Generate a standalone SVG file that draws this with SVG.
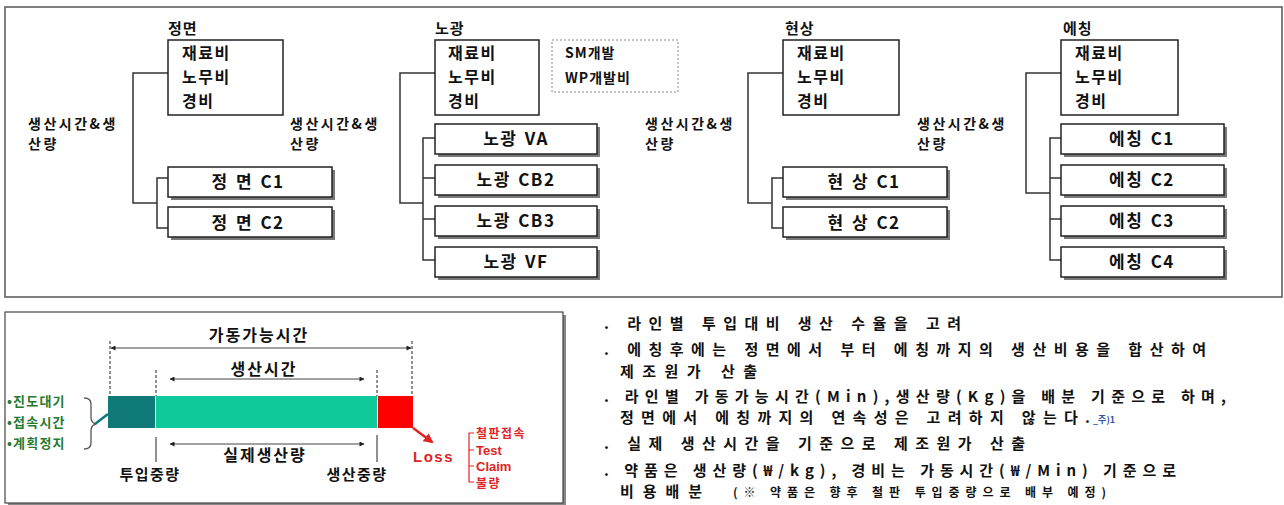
<svg xmlns="http://www.w3.org/2000/svg" width="1284" height="505" viewBox="0 0 1284 505">
<defs>
<style>
.t{font-family:"Noto Sans CJK KR","Noto Sans",sans-serif;font-weight:bold;fill:#111}
.lat{font-family:"Liberation Sans",Arial,sans-serif}
.ttl{font-size:15px;letter-spacing:1px}
.cost{font-size:16px;letter-spacing:1.5px}
.lbl{font-size:14px;letter-spacing:2.5px}
.cl{font-size:17px;letter-spacing:1.5px;word-spacing:2px;text-anchor:middle}
.box{fill:#fff;stroke:#222;stroke-width:1.5}
.sh{fill:#7a7a7a}
.ln{fill:none;stroke:#333;stroke-width:1.5}
.note{font-size:15px}
.grn{font-size:13px;fill:#267a30;letter-spacing:1.2px}
.red{fill:#e02424}
</style>
<marker id="ah" viewBox="0 0 10 10" refX="9" refY="5" markerWidth="8" markerHeight="5" orient="auto-start-reverse" markerUnits="userSpaceOnUse"><path d="M0,0 L10,5 L0,10 z" fill="#222"/></marker>
<marker id="ahr" viewBox="0 0 10 10" refX="8" refY="5" markerWidth="10" markerHeight="10" orient="auto" markerUnits="userSpaceOnUse"><path d="M0,0 L10,5 L0,10 z" fill="#e02424"/></marker>
</defs>
<rect width="1284" height="505" fill="#fff"/>
<rect x="5" y="7" width="1277" height="290" fill="none" stroke="#555" stroke-width="1.5"/>

<g id="connectors">
<path class="ln" d="M168,73 H133 V203 H157 M168,178 H157 V228 H168"/>
<path class="ln" d="M435,73 H400 V203 H423 M435,138 H423 V260 H435 M423,178 H435 M423,219 H435"/>
<path class="ln" d="M783,73 H748 V203 H772 M783,178 H772 V228 H783"/>
<path class="ln" d="M1061,73 H1026 V193 H1050 M1061,138 H1050 V260 H1061 M1050,178 H1061 M1050,219 H1061"/>
</g>

<!-- 정면 -->
<g id="jm-cost">
<text class="t ttl" x="168" y="34">정면</text>
<rect class="box" x="168" y="40" width="115" height="75"/>
<text class="t cost" x="182" y="59">재료비</text>
<text class="t cost" x="182" y="83">노무비</text>
<text class="t cost" x="182" y="107">경비</text>
</g>
<g id="jm-label"><text class="t lbl" x="28" y="129">생산시간&amp;생</text><text class="t lbl" x="28" y="149">산량</text></g>
<g id="jm-c1"><rect class="sh" x="171" y="170" width="164" height="30"/><rect class="box" x="168" y="167" width="164" height="30"/><text class="t cl" x="248" y="188">정 면 C1</text></g>
<g id="jm-c2"><rect class="sh" x="171" y="210" width="164" height="30"/><rect class="box" x="168" y="207" width="164" height="30"/><text class="t cl" x="248" y="229">정 면 C2</text></g>

<!-- 노광 -->
<g id="ng-cost">
<text class="t ttl" x="435" y="34">노광</text>
<rect class="box" x="435" y="40" width="104" height="75"/>
<text class="t cost" x="448" y="59">재료비</text>
<text class="t cost" x="448" y="83">노무비</text>
<text class="t cost" x="448" y="107">경비</text>
</g>
<g id="ng-dev">
<rect x="552" y="40" width="126" height="52" fill="#fff" stroke="#888" stroke-width="1" stroke-dasharray="2 2"/>
<text class="t" x="565" y="58" font-size="14" letter-spacing="1">SM개발</text>
<text class="t" x="565" y="83" font-size="14" letter-spacing="1">WP개발비</text>
</g>
<g id="ng-label"><text class="t lbl" x="290" y="129">생산시간&amp;생</text><text class="t lbl" x="290" y="149">산량</text></g>
<g id="ng-va"><rect class="sh" x="438" y="127" width="162" height="30"/><rect class="box" x="435" y="124" width="162" height="30"/><text class="t cl" x="516" y="145">노광 VA</text></g>
<g id="ng-cb2"><rect class="sh" x="438" y="168" width="162" height="30"/><rect class="box" x="435" y="165" width="162" height="30"/><text class="t cl" x="516" y="186">노광 CB2</text></g>
<g id="ng-cb3"><rect class="sh" x="438" y="209" width="162" height="30"/><rect class="box" x="435" y="206" width="162" height="30"/><text class="t cl" x="516" y="227">노광 CB3</text></g>
<g id="ng-vf"><rect class="sh" x="438" y="250" width="162" height="30"/><rect class="box" x="435" y="247" width="162" height="30"/><text class="t cl" x="516" y="268">노광 VF</text></g>

<!-- 현상 -->
<g id="hs-cost">
<text class="t ttl" x="785" y="34">현상</text>
<rect class="box" x="783" y="40" width="116" height="75"/>
<text class="t cost" x="797" y="59">재료비</text>
<text class="t cost" x="797" y="83">노무비</text>
<text class="t cost" x="797" y="107">경비</text>
</g>
<g id="hs-label"><text class="t lbl" x="645" y="129">생산시간&amp;생</text><text class="t lbl" x="645" y="149">산량</text></g>
<g id="hs-c1"><rect class="sh" x="786" y="170" width="164" height="30"/><rect class="box" x="783" y="167" width="164" height="30"/><text class="t cl" x="864" y="188">현 상 C1</text></g>
<g id="hs-c2"><rect class="sh" x="786" y="210" width="164" height="30"/><rect class="box" x="783" y="207" width="164" height="30"/><text class="t cl" x="864" y="229">현 상 C2</text></g>

<!-- 에칭 -->
<g id="ec-cost">
<text class="t ttl" x="1063" y="34">에칭</text>
<rect class="box" x="1061" y="40" width="117" height="75"/>
<text class="t cost" x="1075" y="59">재료비</text>
<text class="t cost" x="1075" y="83">노무비</text>
<text class="t cost" x="1075" y="107">경비</text>
</g>
<g id="ec-label"><text class="t lbl" x="917" y="129">생산시간&amp;생</text><text class="t lbl" x="917" y="149">산량</text></g>
<g id="ec-c1"><rect class="sh" x="1064" y="127" width="163" height="30"/><rect class="box" x="1061" y="124" width="163" height="30"/><text class="t cl" x="1142" y="145">에칭 C1</text></g>
<g id="ec-c2"><rect class="sh" x="1064" y="168" width="163" height="30"/><rect class="box" x="1061" y="165" width="163" height="30"/><text class="t cl" x="1142" y="186">에칭 C2</text></g>
<g id="ec-c3"><rect class="sh" x="1064" y="209" width="163" height="30"/><rect class="box" x="1061" y="206" width="163" height="30"/><text class="t cl" x="1142" y="227">에칭 C3</text></g>
<g id="ec-c4"><rect class="sh" x="1064" y="250" width="163" height="30"/><rect class="box" x="1061" y="247" width="163" height="30"/><text class="t cl" x="1142" y="268">에칭 C4</text></g>

<!-- bottom-left panel -->
<g id="time-panel">
<rect x="8" y="315" width="558" height="191" fill="#888"/>
<rect x="5" y="312" width="558" height="191" fill="#fff" stroke="#444" stroke-width="1.2"/>
<text class="t" x="259" y="341" font-size="16" letter-spacing="2" text-anchor="middle" font-weight="500">가동가능시간</text>
<line x1="111" y1="348" x2="411" y2="348" stroke="#444" stroke-width="1" marker-start="url(#ah)" marker-end="url(#ah)"/>
<text class="t" x="264" y="375" font-size="16" letter-spacing="2" text-anchor="middle" font-weight="500">생산시간</text>
<line x1="170" y1="379" x2="364" y2="379" stroke="#444" stroke-width="1" marker-start="url(#ah)" marker-end="url(#ah)"/>
<g stroke="#222" stroke-width="1" stroke-dasharray="3 2">
<line x1="110" y1="341" x2="110" y2="396"/>
<line x1="156" y1="370" x2="156" y2="396"/>
<line x1="377" y1="370" x2="377" y2="396"/>
<line x1="412" y1="341" x2="412" y2="396"/>
</g>
<rect x="108" y="396" width="47" height="32" fill="#0f7a78"/>
<rect x="156" y="396" width="221" height="32" fill="#0fc99a"/>
<rect x="378" y="396" width="35" height="32" fill="#ff0000"/>
<line x1="156" y1="437" x2="156" y2="462" stroke="#222" stroke-width="1"/>
<line x1="377" y1="435" x2="377" y2="462" stroke="#222" stroke-width="1"/>
<line x1="170" y1="444" x2="364" y2="444" stroke="#444" stroke-width="1" marker-start="url(#ah)" marker-end="url(#ah)"/>
<text class="t" x="265" y="461" font-size="16" letter-spacing="2" text-anchor="middle" font-weight="500">실제생산량</text>
<text class="t" x="150" y="480" font-size="15" letter-spacing="1.5" text-anchor="middle" font-weight="500">투입중량</text>
<text class="t" x="357" y="480" font-size="15" letter-spacing="1.5" text-anchor="middle" font-weight="500">생산중량</text>
<text class="t grn" x="7" y="406">•진도대기</text>
<text class="t grn" x="7" y="427">•접속시간</text>
<text class="t grn" x="7" y="448">•계획정지</text>
<path d="M84,398 Q91,398 91,404 V417 Q91,423 96,424 Q91,425 91,431 V443 Q91,449 84,449" fill="none" stroke="#555" stroke-width="1.3"/>
<line x1="95" y1="424" x2="108" y2="414" stroke="#0f7a78" stroke-width="2.5"/>
<line x1="413" y1="428" x2="432" y2="442" stroke="#e02424" stroke-width="2.5" marker-end="url(#ahr)"/>
<text class="t lat red" x="413" y="462" font-size="15" letter-spacing="1.5">Loss</text>
<path d="M474,433 H469 V482 H474 M469,450 H474 M469,466 H474" fill="none" stroke="#e02424" stroke-width="1.2"/>
<text class="t red" x="476" y="438" font-size="12" letter-spacing="1.5">철판접속</text>
<text class="t lat red" x="476" y="455" font-size="13" font-weight="normal">Test</text>
<text class="t lat red" x="476" y="471" font-size="13" font-weight="normal">Claim</text>
<text class="t red" x="476" y="488" font-size="12" letter-spacing="1.5">불량</text>
</g>

<!-- notes -->
<g id="notes">
<text class="t note" x="604" y="329" textLength="357" lengthAdjust="spacing">. 라인별 투입대비 생산 수율을 고려</text>
<text class="t note" x="604" y="355" textLength="602" lengthAdjust="spacing">. 에칭후에는 정면에서 부터 에칭까지의 생산비용을 합산하여</text>
<text class="t note" x="620" y="377" textLength="137" lengthAdjust="spacing">제조원가 산출</text>
<text class="t note" x="604" y="402" textLength="622" lengthAdjust="spacing">. 라인별 가동가능시간(Min),생산량(Kg)을 배분 기준으로 하며,</text>
<text class="t note" x="620" y="423" textLength="470" lengthAdjust="spacing">정면에서 에칭까지의 연속성은 고려하지 않는다.</text>
<text class="t" x="1093" y="423" font-size="9" style="fill:#3355aa">_주)1</text>
<text class="t note" x="604" y="449" textLength="421" lengthAdjust="spacing">. 실제 생산시간을 기준으로 제조원가 산출</text>
<text class="t note" x="604" y="476" textLength="572" lengthAdjust="spacing">. 약품은 생산량(₩/kg), 경비는 가동시간(₩/Min) 기준으로</text>
<text class="t note" x="620" y="497" textLength="82" lengthAdjust="spacing">비용배분</text>
<text class="t" x="733" y="497" font-size="12" textLength="373" lengthAdjust="spacing">(※ 약품은 향후 철판 투입중량으로 배부 예정)</text>
</g>
</svg>
